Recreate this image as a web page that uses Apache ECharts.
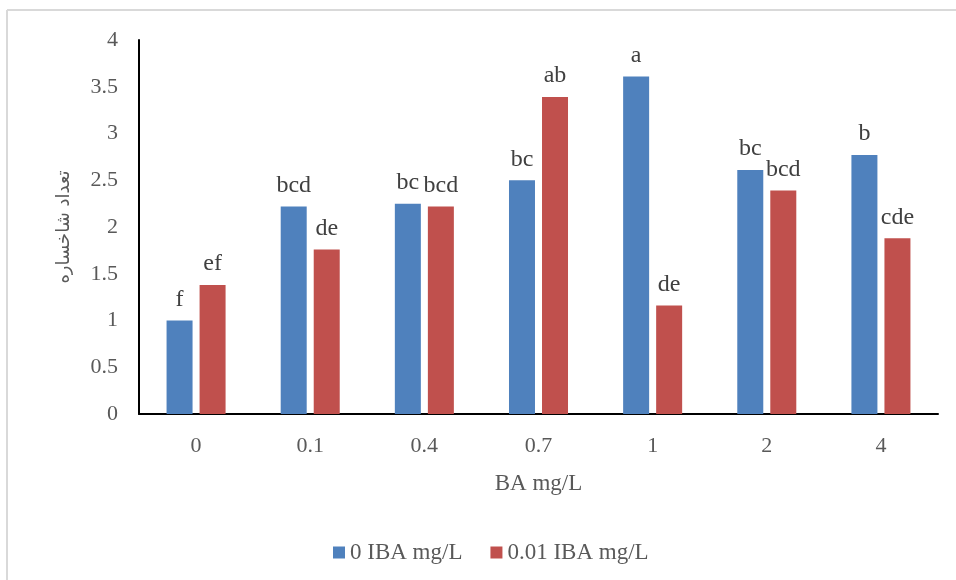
<!DOCTYPE html>
<html>
<head>
<meta charset="utf-8">
<script src="https://cdn.jsdelivr.net/npm/echarts@6/dist/echarts.min.js"></script>
<style>
  html, body { margin: 0; padding: 0; background: #fff; }
  #main { width: 956px; height: 580px; }
</style>
</head>
<body>
<div id="main"></div>
<script>
// BA levels on the x axis
var categories = ['0', '0.1', '0.4', '0.7', '1', '2', '4'];
var seriesNames = ['0 IBA mg/L', '0.01 IBA mg/L'];
// values
var iba0 = [1.0, 2.22, 2.25, 2.5, 3.61, 2.61, 2.77];
var iba001 = [1.38, 1.76, 2.22, 3.39, 1.16, 2.39, 1.88];
// significance letters above bars
var letters0 = ['f', 'bcd', 'bc', 'bc', 'a', 'bc', 'b'];
var letters001 = ['ef', 'de', 'bcd', 'ab', 'de', 'bcd', 'cde'];

var serif = 'Liberation Serif, Times New Roman, serif';

function makeLabel(letters) {
  return {
    show: true,
    position: 'top',
    distance: 9,
    fontFamily: serif,
    fontSize: 24,
    color: '#404040',
    formatter: function (p) { return letters[p.dataIndex]; }
  };
}

var chart = echarts.init(document.getElementById('main'));
var option = {
  backgroundColor: '#fff',
  animation: false,
  textStyle: { fontFamily: serif },
  graphic: [
    { type: 'line', shape: { x1: 7, y1: 10, x2: 956, y2: 10 }, style: { stroke: '#d9d9d9', lineWidth: 2 } },
    { type: 'line', shape: { x1: 7, y1: 10, x2: 7, y2: 580 }, style: { stroke: '#d9d9d9', lineWidth: 2 } }
  ],
  grid: { left: 139, right: 18, top: 40, bottom: 166 },
  legend: {
    data: seriesNames,
    left: 328,
    top: 536,
    icon: 'rect',
    itemWidth: 12,
    itemHeight: 12,
    itemGap: 28,
    textStyle: { fontFamily: serif, fontSize: 23, color: '#595959' }
  },
  xAxis: {
    type: 'category',
    data: categories,
    name: 'BA mg/L',
    nameLocation: 'middle',
    nameGap: 58,
    nameTextStyle: { fontFamily: serif, fontSize: 23, color: '#595959' },
    axisLine: { lineStyle: { color: '#000', width: 2 } },
    axisTick: { show: false },
    axisLabel: { fontFamily: serif, fontSize: 22, color: '#595959', margin: 21 }
  },
  yAxis: {
    type: 'value',
    min: 0,
    max: 4,
    interval: 0.5,
    name: 'تعداد شاخساره',
    nameLocation: 'middle',
    nameGap: 66,
    nameTextStyle: { fontFamily: 'DejaVu Sans, Noto Sans, sans-serif', fontSize: 18, color: '#595959' },
    axisLine: { show: true, lineStyle: { color: '#000', width: 2 } },
    axisTick: { show: false },
    splitLine: { show: false },
    axisLabel: { fontFamily: serif, fontSize: 22, color: '#595959', margin: 21 }
  },
  series: [
    {
      name: seriesNames[0],
      type: 'bar',
      data: iba0,
      barWidth: 26,
      barGap: '27%',
      itemStyle: { color: '#4F81BD' },
      label: makeLabel(letters0)
    },
    {
      name: seriesNames[1],
      type: 'bar',
      data: iba001,
      barWidth: 26,
      barGap: '27%',
      itemStyle: { color: '#C0504D' },
      label: makeLabel(letters001)
    }
  ]
};
chart.setOption(option);
</script>
</body>
</html>
